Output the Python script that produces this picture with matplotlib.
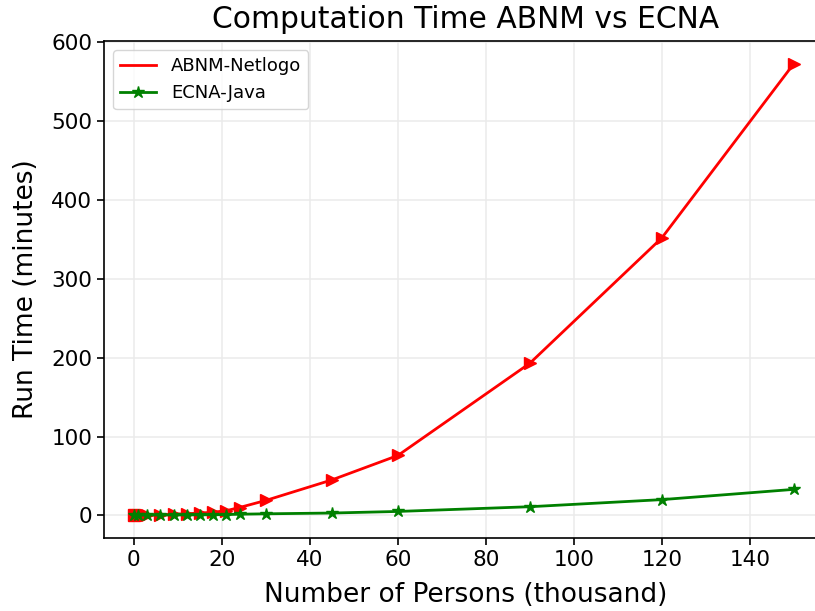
import numpy as np
import matplotlib
matplotlib.use('Agg')
import matplotlib.pyplot as plt

persons = [0, 1, 3, 6, 9, 12, 15, 18, 21, 24, 30, 45, 60, 90, 120, 150]
abnm_netlogo = [0, 0.2, 0.5, 1, 1.5, 2, 3, 4, 6, 10, 19, 45, 76, 193, 352, 573]
ecna_java = [0, 0.3, 0.4, 0.5, 0.5, 0.6, 0.7, 0.8, 1.0, 1.5, 2, 3, 5, 11, 20, 33]

fig = plt.figure(figsize=(8.15, 6.11), dpi=100)
# axes runs past the right edge of the picture, like the cropped original
ax = fig.add_axes([0.1276, 0.1195, 0.887, 0.8135])

ax.plot(persons, abnm_netlogo, color='red', linewidth=2, label='ABNM-Netlogo')
ax.plot(persons[1:], abnm_netlogo[1:], color='red', linestyle='none', marker='>', markersize=9)
ax.plot(persons[:1], abnm_netlogo[:1], color='red', linestyle='none', marker='s', markersize=8)
ax.plot(persons, ecna_java, color='green', linewidth=2, marker='*', markersize=9, label='ECNA-Java')

ax.set_xlim(-6.8, 157.5)
ax.grid(True, color='#ebebeb', linewidth=1.1)
ax.set_axisbelow(True)
ax.set_title('Computation Time ABNM vs ECNA', fontsize=21.4, pad=9)
ax.set_xlabel('Number of Persons (thousand)', fontsize=19, labelpad=9)
ax.set_ylabel('Run Time (minutes)', fontsize=19, labelpad=9)
ax.tick_params(labelsize=15.5, width=1.2, length=5)
for s in ax.spines.values():
    s.set_linewidth(1.2)
ax.legend(loc='upper left', fontsize=13)

plt.savefig('out.png')
